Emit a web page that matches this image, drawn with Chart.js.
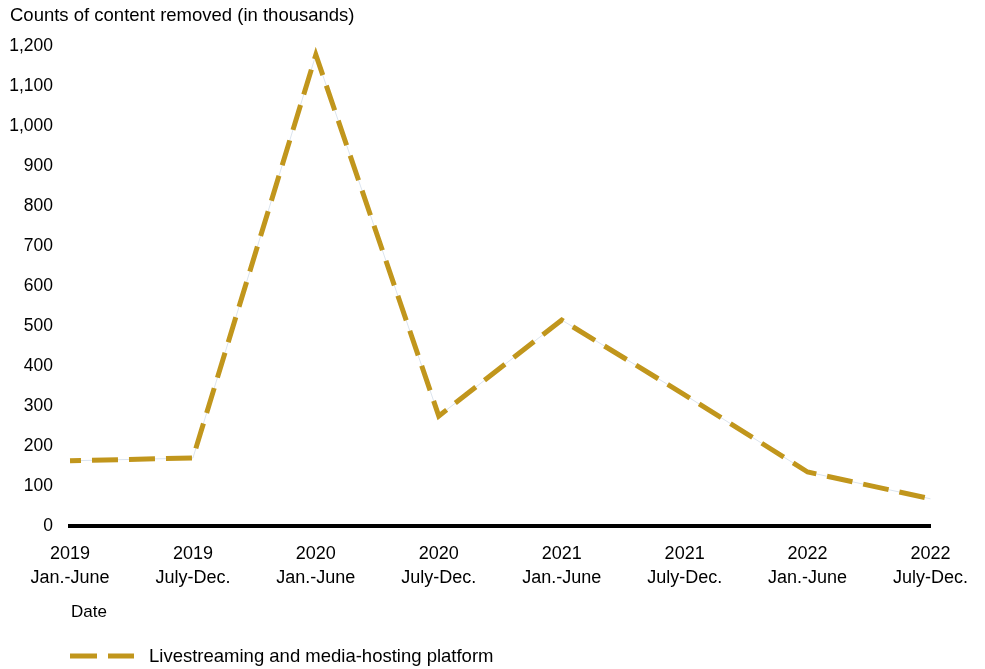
<!DOCTYPE html>
<html>
<head>
<meta charset="utf-8">
<script src="https://cdn.jsdelivr.net/npm/chart.js@4"></script>
<style>
	html, body { margin: 0; padding: 0; background: #fff; }
	#wrap { position: relative; width: 985px; height: 669px; }
</style>
</head>
<body>
<div id="wrap"><canvas id="chart"></canvas></div>
<script>
// values (thousands of items removed)
const years = ['2019', '2019', '2020', '2020', '2021', '2021', '2022', '2022']
const halves = ['Jan.-June', 'July-Dec.', 'Jan.-June', 'July-Dec.', 'Jan.-June', 'July-Dec.', 'Jan.-June', 'July-Dec.']
const removed = [163, 170, 1178, 275, 515, 328, 135, 68]
const seriesName = 'Livestreaming and media-hosting platform'
const yTitle = 'Counts of content removed (in thousands)'
const xTitle = 'Date'

const gold = '#c1961c'
const FONT = '"Liberation Sans", Arial, sans-serif'

// title, axis name and legend sit at fixed spots around the plot
const extraText = {
	id: 'extraText',
	afterDraw(chart) {
		const ctx = chart.ctx
		const area = chart.chartArea
		ctx.save()
		ctx.fillStyle = '#000'
		ctx.textBaseline = 'middle'
		ctx.textAlign = 'left'
		ctx.font = '18.5px ' + FONT
		ctx.fillText(yTitle, 10, 16)
		ctx.font = '17px ' + FONT
		ctx.fillText(xTitle, area.left + 1, 612)

		// legend
		ctx.strokeStyle = gold
		ctx.lineWidth = 5
		ctx.setLineDash([27, 11])
		ctx.beginPath()
		ctx.moveTo(area.left, 656)
		ctx.lineTo(area.left + 64, 656)
		ctx.stroke()
		ctx.setLineDash([])
		ctx.font = '18.5px ' + FONT
		ctx.fillText(seriesName, area.left + 79, 657)
		ctx.restore()
	},
}

new Chart(document.getElementById('chart'), {
	type: 'line',
	data: {
		labels: years.map((y, i) => [y, halves[i]]),
		datasets: [
			{
				label: seriesName,
				data: removed,
				borderColor: gold,
				borderWidth: 5,
				borderDash: [26, 11],
				borderDashOffset: 15,
				pointRadius: 0,
				tension: 0,
				order: 1,
			},
			{
				label: 'guide',
				data: removed,
				borderColor: '#dbe4ee',
				borderWidth: 1,
				pointRadius: 0,
				tension: 0,
				order: 2,
			},
		],
	},
	options: {
		responsive: true,
		maintainAspectRatio: false,
		animation: false,
		layout: { padding: { left: 10, right: 54, top: 46, bottom: 0 } },
		plugins: {
			legend: { display: false },
			tooltip: { enabled: false },
		},
		scales: {
			x: {
				offset: false,
				grid: { display: false, drawTicks: false },
				border: { display: true, color: '#000', width: 4 },
				ticks: {
					color: '#000',
					font: { family: FONT, size: 18, lineHeight: 1.28 },
					padding: 17,
					maxRotation: 0,
					autoSkip: false,
				},
				afterFit: (scale) => { scale.height = 143 },
			},
			y: {
				min: 0,
				max: 1200,
				grid: { display: false, drawTicks: false },
				border: { display: false },
				ticks: {
					stepSize: 100,
					color: '#000',
					font: { family: FONT, size: 17.5 },
					padding: 17,
				},
				afterFit: (scale) => { scale.width = 60 },
			},
		},
	},
	plugins: [extraText],
})
</script>
</body>
</html>
